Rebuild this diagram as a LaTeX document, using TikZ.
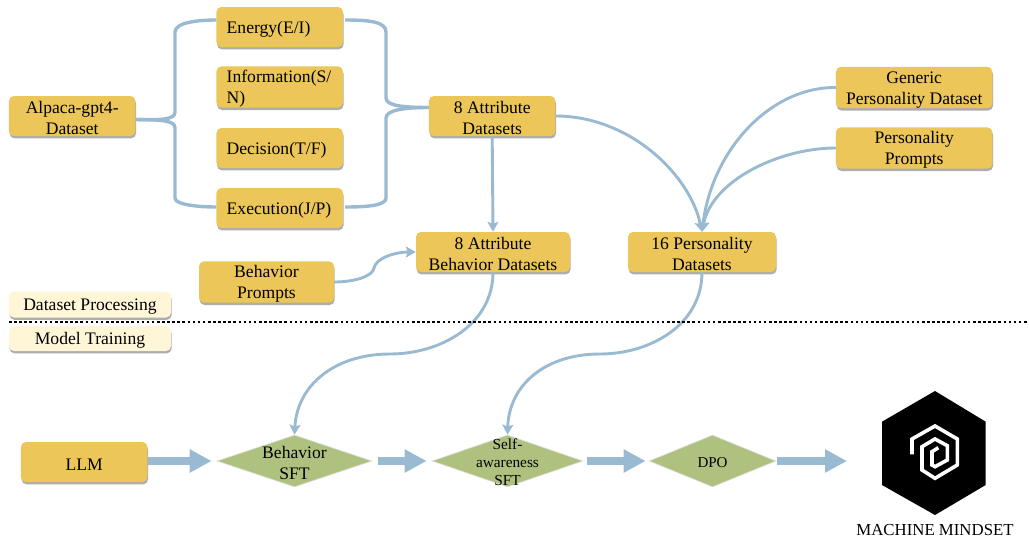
\documentclass[tikz,border=0pt]{standalone}
\usepackage{fontspec}
\setmainfont{Liberation Serif}
\usetikzlibrary{shapes.geometric,shadows,arrows.meta}
\definecolor{boxy}{HTML}{ECC659}
\definecolor{boxc}{HTML}{FFF6D8}
\definecolor{dia}{HTML}{AEC17F}
\definecolor{conn}{HTML}{9ABAD2}
\newcommand{\toprl}{\rule{0pt}{16.5pt}}
\tikzset{
  softshadow/.style={drop shadow={shadow xshift=0.6pt,shadow yshift=-2.4pt,fill=black,opacity=.32}},
  ybox/.style={rectangle,rounded corners=5pt,fill=boxy,softshadow,inner sep=0pt,align=center,
     font=\fontsize{17.6}{21}\selectfont},
  cbox/.style={ybox,fill=boxc},
  sq/.style={minimum width=126.5pt,minimum height=40pt},
  dmd/.style={diamond,fill=dia,draw=gray!25,line width=.7pt,inner sep=0pt,minimum width=#1,minimum height=52pt,shape aspect=2.8},
  dlabel/.style={align=center,inner sep=0pt,yshift=-1.5pt,font=\fontsize{17.6}{21}\selectfont},
  brace/.style={draw=conn,line width=3.4pt},
  flow/.style={draw=conn,line width=2.9pt,-{Stealth[length=10pt,width=11pt,inset=2pt]}},
  block/.style={draw=conn,line width=7.5pt,-{Triangle[length=22pt,width=22pt]}},
}
\begin{document}
\begin{tikzpicture}[x=1pt,y=-1pt]
\useasboundingbox (0,0) rectangle (1029,541);
% boxes
\node[ybox,sq] (alp) at (72.2,116) {\toprl Alpaca-gpt4-\\Dataset};
\node[ybox,sq] (ene) at (279.7,27) {\toprl\makebox[106pt][l]{Energy(E/I)}};
\node[ybox,sq] (inf) at (279.7,87) {\toprl\makebox[106pt][l]{Information(S/}\\\makebox[106pt][l]{N)}};
\node[ybox,sq] (dec) at (279.7,148) {\toprl\makebox[106pt][l]{Decision(T/F)}};
\node[ybox,sq] (exe) at (279.7,208) {\toprl\makebox[106pt][l]{Execution(J/P)}};
\node[ybox,sq] (att) at (492.2,116) {\toprl 8 Attribute\\Datasets};
\node[ybox,minimum width=154pt,minimum height=40pt] (abd) at (493,252) {\toprl 8 Attribute\\Behavior Datasets};
\node[ybox,minimum width=148pt,minimum height=40pt] (pds) at (702,252) {\toprl 16 Personality\\Datasets};
\node[ybox,minimum width=156.5pt,minimum height=39.5pt] (gen) at (914.2,87.5) {\toprl Generic\\Personality Dataset};
\node[ybox,minimum width=156.5pt,minimum height=40pt] (ppr) at (914.2,148) {\toprl Personality\\Prompts};
\node[ybox,minimum width=135pt,minimum height=40pt] (bpr) at (266.5,282) {\toprl Behavior\\Prompts};
\node[cbox,minimum width=162pt,minimum height=26pt] (dsp) at (90,304.5) {\toprl Dataset Processing};
\node[cbox,minimum width=162pt,minimum height=25pt] (mdt) at (90,338.5) {\toprl Model Training};
\node[ybox,sq] (llm) at (84.2,462) {\toprl LLM};
% diamonds
\node[dmd=155pt,label={[name=d1t,dlabel]center:Behavior\\SFT}] (d1) at (294.5,461) {};
\node[dmd=151pt,label={[name=d2t,dlabel,font=\fontsize{15.3}{18}\selectfont]center:Self-\\awareness\\SFT}] (d2) at (507.5,461) {};
\node[dmd=127pt,label={[name=d3t,dlabel,font=\fontsize{15}{18}\selectfont]center:DPO}] (d3) at (712.5,461) {};
% logo
\coordinate (logo) at (882,461);
\fill[black] (935,391) -- (985.7,421.7) -- (985.7,485) -- (935,515) -- (882,485) -- (882,421.7) -- cycle;
\draw[white,line width=3.6pt,line join=miter] (912,454.3) -- (912,439) -- (935,426) -- (957.3,439) -- (957.3,465) -- (935,478.3) -- (922,470) -- (922,446.7) -- (935,439) -- (947.3,445.7) -- (947.3,460) -- (935,466.7) -- (932,465) -- (932,451.7) -- (938.3,447.7);
\node[inner sep=0pt,font=\fontsize{16.8}{20}\selectfont] (mms) at (935,530) {MACHINE MINDSET};
% braces
\draw[brace] ([yshift=-3.5pt]alp.east) .. controls (160,120) and (175,120) .. (175,112) -- (175,32) .. controls (175,22) and (200,20) .. ([yshift=7pt]ene.west);
\draw[brace] ([yshift=-3.5pt]alp.east) .. controls (160,120) and (175,120) .. (175,128) -- (175,198) .. controls (175,205) and (200,207) .. ([yshift=1pt]exe.west);
\draw[brace] ([xshift=2pt,yshift=7pt]ene.east) .. controls (370,20) and (386,22) .. (386,32) -- (386,98) .. controls (386,106) and (405,107.5) .. ([yshift=8.5pt]att.west);
\draw[brace] ([xshift=2pt,yshift=1pt]exe.east) .. controls (370,207) and (386,205) .. (386,198) -- (386,118) .. controls (386,110) and (405,107.5) .. ([yshift=8.5pt]att.west);
% connectors
\draw[flow] (att.south) -- (abd.north);
\draw[flow] (bpr.east) .. controls (355,282) and (373,276) .. (374,268) .. controls (376,258) and (395,252) .. (abd.west);
\draw[flow] (att.east) .. controls (630,116) and (690,175) .. (pds.north);
\draw[flow] (gen.west) .. controls (770,87) and (712,150) .. (pds.north);
\draw[flow] (ppr.west) .. controls (780,148) and (712,180) .. (pds.north);
\coordinate (m1) at (390,354);
\coordinate (m2) at (600,354);
\draw[flow] (abd.south) .. controls (493,325) and (440,354) .. (m1) .. controls (335,354) and (297,385) .. (d1.north);
\draw[flow] (pds.south) .. controls (702,325) and (650,354) .. (m2) .. controls (545,354) and (509,385) .. (d2.north);
% block arrows
\draw[block] (llm.east |- d1.west) -- ([xshift=-5pt]d1.west);
\draw[block] ([xshift=6pt]d1.east) -- ([xshift=-5pt]d2.west);
\draw[block] ([xshift=4pt]d2.east) -- ([xshift=-3pt]d3.west);
\draw[block] ([xshift=1pt]d3.east) -- ([xshift=-35pt]logo);
% separator
\coordinate (sepl) at (9,322);
\coordinate (sepr) at (1029,322);
\draw[black,line width=2.6pt,dash pattern=on 2.6pt off 2.5pt] (sepl) -- (sepr);
\end{tikzpicture}
\end{document}
